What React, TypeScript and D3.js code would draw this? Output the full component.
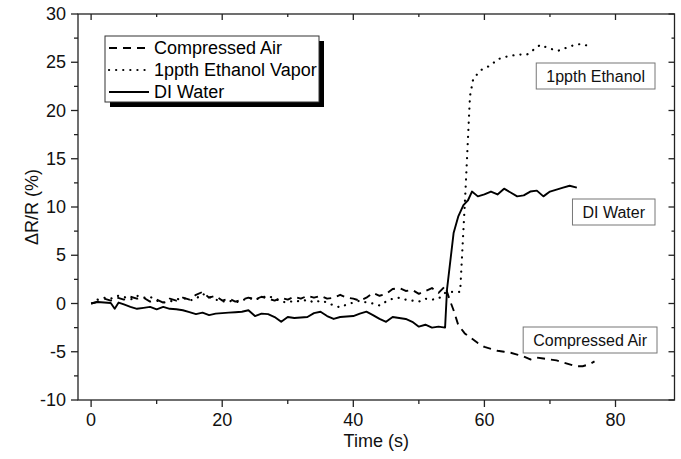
import React, { useRef, useEffect } from "react";
import * as d3 from "d3";

// [time (s), dR/R (%)]
const compressedAir: [number, number][] = [
  [0, 0.0], [1, 0.2], [2, 0.5], [3, 0.3], [4, 0.6], [5, 0.4], [6, 0.7], [7, 0.5], [8, 0.6], [9, 0.2],
  [10, 0.4], [11, 0.1], [12, 0.5], [13, 0.3], [14, 0.6], [15, 0.4], [16, 0.9], [17, 1.2], [18, 0.6], [19, 0.8],
  [20, 0.3], [21, 0.5], [22, 0.2], [23, 0.4], [24, 0.6], [25, 0.4], [26, 0.7], [27, 0.5], [28, 0.3], [29, 0.6],
  [30, 0.4], [31, 0.7], [32, 0.5], [33, 0.8], [34, 0.6], [35, 0.8], [36, 0.5], [37, 0.6], [38, 0.9], [39, 0.6],
  [40, 0.5], [41, 0.3], [42, 0.6], [43, 1.1], [44, 0.8], [45, 1.0], [46, 1.5], [47, 1.6], [48, 1.3], [49, 1.4],
  [50, 1.0], [51, 1.3], [52, 1.6], [53, 1.1], [54, 1.8], [54.8, 0.2], [55.3, -0.7], [56, -2.2], [57, -3.1],
  [58, -3.6], [59, -4.1], [60, -4.5], [61, -4.7], [62, -4.9], [63, -5.0], [64, -5.1], [65, -5.3], [66, -5.5],
  [67, -5.8], [68, -5.6], [69, -5.7], [70, -5.8], [71, -5.9], [72, -6.1], [73, -6.3], [74, -6.5], [75, -6.5],
  [76, -6.3], [76.8, -6.0],
];

const ethanolVapor: [number, number][] = [
  [1, 0.4], [2, 0.6], [3, 0.5], [4, 0.8], [5, 0.7], [6, 0.4], [7, 0.8], [8, 0.6], [9, 0.7], [10, 0.3],
  [11, 0.1], [12, 0.2], [13, 0.4], [14, 0.6], [15, 0.3], [16, 0.5], [17, 1.0], [18, 0.7], [19, 0.4], [20, 0.2],
  [21, 0.3], [22, 0.1], [23, 0.3], [24, 0.6], [25, 0.4], [26, 0.6], [27, 0.8], [28, 0.5], [29, 0.2], [30, 0.1],
  [31, 0.3], [32, 0.2], [33, 0.4], [34, 0.1], [35, 0.3], [36, 0.1], [37, -0.2], [38, -0.4], [39, -0.1], [40, 0.1],
  [41, 0.3], [42, 0.1], [43, 0.0], [44, -0.2], [45, 0.2], [46, 0.5], [47, 0.6], [48, 0.4], [49, 0.3], [50, 0.2],
  [51, 0.5], [52, 0.4], [53, 0.5], [54, 1.1], [55, 1.2], [56.3, 1.2], [57.1, 11.5], [57.8, 21.5], [58.3, 23.3],
  [59.5, 24.2], [61, 24.7], [62, 25.3], [63.5, 25.6], [65, 25.8], [66.5, 25.8], [67.5, 26.3], [68.5, 26.8],
  [70, 26.4], [71.3, 26.2], [72.5, 26.5], [73.8, 26.8], [74.8, 26.9], [76.3, 26.6],
];

const diWater: [number, number][] = [
  [0, 0.0], [1, 0.15], [2, 0.1], [3, 0.05], [3.6, -0.55], [4.2, 0.1], [5, -0.1], [6, -0.35], [7, -0.55],
  [8, -0.45], [9, -0.35], [10, -0.6], [11, -0.35], [12, -0.55], [13, -0.6], [14, -0.7], [15, -0.9], [16, -1.1],
  [17, -0.95], [18, -1.2], [19, -1.05], [20, -1.0], [21, -0.95], [22, -0.9], [23, -0.85], [24, -0.7], [25, -1.3],
  [26, -1.05], [27, -1.1], [28, -1.4], [29, -1.9], [30, -1.4], [31, -1.5], [32, -1.45], [33, -1.4], [34, -1.0],
  [35, -0.85], [36, -1.3], [37, -1.6], [38, -1.4], [39, -1.35], [40, -1.3], [41, -1.05], [42, -0.85], [43, -1.2],
  [44, -1.6], [45, -1.9], [46, -1.4], [47, -1.5], [48, -1.6], [49, -1.9], [50, -2.4], [51, -2.2], [52, -2.5],
  [53, -2.4], [54, -2.5], [54.3, 1.5], [55.3, 7.3], [56, 9.0], [56.8, 10.2], [57.5, 10.7], [58.1, 11.6],
  [59, 11.1], [60, 11.3], [61, 11.6], [62, 11.3], [63, 11.9], [64, 11.5], [65, 11.1], [66, 11.2], [67, 11.6],
  [68, 11.7], [69, 11.1], [70, 11.6], [71, 11.8], [72, 12.0], [73, 12.2], [74.1, 12.0],
];

const seriesNames = ["Compressed Air", "1ppth Ethanol Vapor", "DI Water"];
const boxLabels = ["1ppth Ethanol", "DI Water", "Compressed Air"];
const xTicks = [0, 20, 40, 60, 80];
const yTicks = [-10, -5, 0, 5, 10, 15, 20, 25, 30];

const W = 681;
const H = 459;
const FONT = "'Liberation Sans', Arial, sans-serif";

const App = () => {
  const ref = useRef<SVGSVGElement>(null);

  useEffect(() => {
    const svg = d3.select(ref.current);
    svg.selectAll("*").remove();

    const x = d3.scaleLinear().domain([-2, 89]).range([78, 674.5]);
    const y = d3.scaleLinear().domain([-10, 30]).range([400, 14]);
    const [x0, x1] = x.range();
    const [y0, y1] = y.range();
    const ink = "#222";

    // frame
    svg.append("rect")
      .attr("x", x0).attr("y", y1)
      .attr("width", x1 - x0).attr("height", y0 - y1)
      .attr("fill", "none").attr("stroke", ink).attr("stroke-width", 1.3);

    // x ticks
    const xMinor = d3.range(10, 90, 20);
    const g = svg.append("g").attr("stroke", ink).attr("stroke-width", 1.3);
    xTicks.forEach((t) => {
      g.append("line").attr("x1", x(t)).attr("x2", x(t)).attr("y1", y0).attr("y2", y0 + 7);
      g.append("line").attr("x1", x(t)).attr("x2", x(t)).attr("y1", y1).attr("y2", y1 + 6);
    });
    xMinor.forEach((t) => {
      g.append("line").attr("x1", x(t)).attr("x2", x(t)).attr("y1", y0).attr("y2", y0 + 4);
      g.append("line").attr("x1", x(t)).attr("x2", x(t)).attr("y1", y1).attr("y2", y1 + 3);
    });
    // y ticks
    const yMinor = d3.range(-7.5, 30, 5);
    yTicks.forEach((v) => {
      g.append("line").attr("x1", x0 - 7).attr("x2", x0).attr("y1", y(v)).attr("y2", y(v));
      g.append("line").attr("x1", x1 - 6).attr("x2", x1).attr("y1", y(v)).attr("y2", y(v));
    });
    yMinor.forEach((v) => {
      g.append("line").attr("x1", x0 - 4).attr("x2", x0).attr("y1", y(v)).attr("y2", y(v));
      g.append("line").attr("x1", x1 - 3).attr("x2", x1).attr("y1", y(v)).attr("y2", y(v));
    });

    const labels = svg.append("g").attr("font-family", FONT).attr("font-size", 18).attr("fill", "#111");
    xTicks.forEach((t) => {
      labels.append("text").attr("x", x(t)).attr("y", y0 + 26).attr("text-anchor", "middle").text(t);
    });
    yTicks.forEach((v) => {
      labels.append("text").attr("x", x0 - 12).attr("y", y(v) + 6).attr("text-anchor", "end").text(v);
    });
    labels.append("text").attr("x", (x0 + x1) / 2).attr("y", 447).attr("text-anchor", "middle").text("Time (s)");
    labels.append("text")
      .attr("transform", `translate(38,${(y0 + y1) / 2}) rotate(-90)`)
      .attr("text-anchor", "middle").text("ΔR/R (%)");

    // lines
    const line = d3.line<[number, number]>().x((d) => x(d[0])).y((d) => y(d[1])).curve(d3.curveLinear);
    const styles = [
      { data: compressedAir, dash: "8 6", cap: "butt", w: 1.9 },
      { data: ethanolVapor, dash: "0.1 7", cap: "round", w: 2.2 },
      { data: diWater, dash: null, cap: "butt", w: 1.9 },
    ];
    styles.forEach((s) => {
      svg.append("path")
        .attr("d", line(s.data))
        .attr("fill", "none")
        .attr("stroke", "#000")
        .attr("stroke-width", s.w)
        .attr("stroke-linecap", s.cap)
        .attr("stroke-linejoin", "round")
        .attr("stroke-dasharray", s.dash);
    });

    // legend
    const lg = svg.append("g").attr("font-family", FONT).attr("font-size", 18);
    lg.append("rect").attr("x", 110).attr("y", 41).attr("width", 214).attr("height", 66).attr("fill", "#000");
    lg.append("rect").attr("x", 105).attr("y", 36).attr("width", 214).attr("height", 66)
      .attr("fill", "#fff").attr("stroke", "#333").attr("stroke-width", 1);
    seriesNames.forEach((name, i) => {
      const ly = 48 + i * 22;
      const s = styles[i];
      lg.append("line").attr("x1", 109).attr("x2", 149).attr("y1", ly).attr("y2", ly)
        .attr("stroke", "#000").attr("stroke-width", s.w)
        .attr("stroke-linecap", s.cap).attr("stroke-dasharray", s.dash);
      lg.append("text").attr("x", 154).attr("y", ly + 6).attr("fill", "#000").text(name);
    });

    // annotation boxes
    const boxPos = [
      { right: 655, top: 63 },
      { right: 655, top: 199 },
      { right: 657, top: 327 },
    ];
    boxLabels.forEach((lab, i) => {
      const bg = svg.append("g").attr("font-family", FONT).attr("font-size", 16);
      const r = bg.append("rect");
      const t = bg.append("text").attr("fill", "#111").text(lab);
      const tw = (t.node() as SVGTextElement).getComputedTextLength();
      const bw = tw + 20;
      const bx = boxPos[i].right - bw;
      r.attr("x", bx).attr("y", boxPos[i].top).attr("width", bw).attr("height", 26)
        .attr("fill", "#fff").attr("stroke", "#777").attr("stroke-width", 1);
      t.attr("x", bx + 10).attr("y", boxPos[i].top + 19);
    });
  }, []);

  return (
    <div>
      <svg ref={ref} width={W} height={H} style={{ position: "absolute", left: 0, top: 0, background: "#fff" }} />
    </div>
  );
};

export default App;
